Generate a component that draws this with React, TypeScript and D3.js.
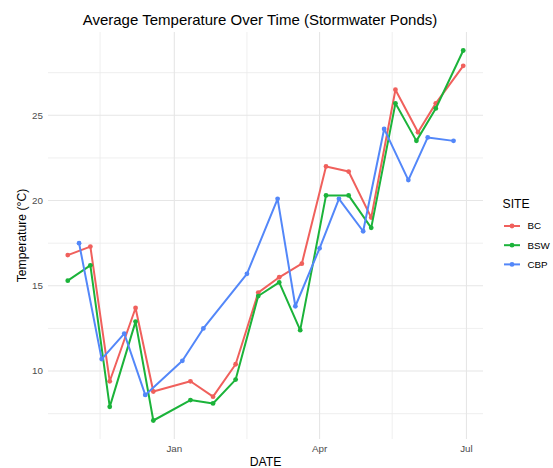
import React from "react";
import * as d3 from "d3";

const sites = ["BC", "BSW", "CBP"];
const siteColors = ["#F0605C", "#1BB33A", "#5387F9"];

const bcDates = ["2022-10-27", "2022-11-10", "2022-11-22", "2022-12-08", "2022-12-19", "2023-01-11", "2023-01-25", "2023-02-08", "2023-02-22", "2023-03-07", "2023-03-21", "2023-04-05", "2023-04-19", "2023-05-03", "2023-05-18", "2023-06-01", "2023-06-12", "2023-06-29"];
const bcValues = [16.8, 17.3, 9.4, 13.7, 8.8, 9.4, 8.5, 10.4, 14.6, 15.5, 16.3, 22.0, 21.7, 19.0, 26.5, 24.0, 25.7, 27.9];

const bswDates = ["2022-10-27", "2022-11-10", "2022-11-22", "2022-12-08", "2022-12-19", "2023-01-11", "2023-01-25", "2023-02-08", "2023-02-22", "2023-03-07", "2023-03-20", "2023-04-05", "2023-04-19", "2023-05-03", "2023-05-18", "2023-05-31", "2023-06-12", "2023-06-29"];
const bswValues = [15.3, 16.2, 7.9, 12.9, 7.1, 8.3, 8.1, 9.5, 14.4, 15.2, 12.4, 20.3, 20.3, 18.4, 25.7, 23.5, 25.4, 28.8];

const cbpDates = ["2022-11-03", "2022-11-17", "2022-12-01", "2022-12-14", "2023-01-06", "2023-01-19", "2023-02-15", "2023-03-06", "2023-03-17", "2023-04-01", "2023-04-13", "2023-04-28", "2023-05-11", "2023-05-26", "2023-06-07", "2023-06-23"];
const cbpValues = [17.5, 10.7, 12.2, 8.6, 10.6, 12.5, 15.7, 20.1, 13.8, 17.2, 20.1, 18.2, 24.2, 21.2, 23.7, 23.5];

const yTicks = [10, 15, 20, 25];
const yMinor = [7.5, 12.5, 17.5, 22.5, 27.5];
const xTickDates = ["2023-01-01", "2023-04-01", "2023-07-01"];
const xTickLabels = ["Jan", "Apr", "Jul"];
const xMinorDates = ["2022-11-16", "2023-02-15", "2023-05-16"];

const title = "Average Temperature Over Time (Stormwater Ponds)";
const xTitle = "DATE";
const yTitle = "Temperature (°C)";
const legendTitle = "SITE";

const parse = d3.utcParse("%Y-%m-%d");

export default function App() {
  const W = 553, H = 468;
  const left = 48, right = 483, top = 32, bottom = 439;

  const series = [
    { name: sites[0], color: siteColors[0], pts: bcDates.map((d, i) => ({ x: parse(d)!, y: bcValues[i] })) },
    { name: sites[1], color: siteColors[1], pts: bswDates.map((d, i) => ({ x: parse(d)!, y: bswValues[i] })) },
    { name: sites[2], color: siteColors[2], pts: cbpDates.map((d, i) => ({ x: parse(d)!, y: cbpValues[i] })) },
  ];
  const all = series.flatMap((s) => s.pts);
  const [x0, x1] = d3.extent(all, (p) => +p.x) as [number, number];
  const [y0, y1] = d3.extent(all, (p) => p.y) as [number, number];
  const xPad = (x1 - x0) * 0.05;
  const yPad = (y1 - y0) * 0.05;
  const x = d3.scaleUtc().domain([new Date(x0 - xPad), new Date(x1 + xPad)]).range([left, right]);
  const y = d3.scaleLinear().domain([y0 - yPad, y1 + yPad]).range([bottom, top]);
  const line = d3.line<{ x: Date; y: number }>().x((p) => x(p.x)).y((p) => y(p.y));

  const font = "'Liberation Sans', Arial, sans-serif";

  return (
    <svg width={W} height={H} style={{ position: "absolute", left: 0, top: 0, background: "#fff" }} fontFamily={font}>
      {yMinor.map((v) => (
        <line key={"ym" + v} x1={left} x2={right} y1={y(v)} y2={y(v)} stroke="#EBEBEB" strokeWidth={0.8} />
      ))}
      {xMinorDates.map((d) => (
        <line key={"xm" + d} x1={x(parse(d)!)} x2={x(parse(d)!)} y1={top} y2={bottom} stroke="#EBEBEB" strokeWidth={0.8} />
      ))}
      {yTicks.map((v) => (
        <line key={"y" + v} x1={left} x2={right} y1={y(v)} y2={y(v)} stroke="#E6E6E6" strokeWidth={1.1} />
      ))}
      {xTickDates.map((d) => (
        <line key={"x" + d} x1={x(parse(d)!)} x2={x(parse(d)!)} y1={top} y2={bottom} stroke="#E6E6E6" strokeWidth={1.1} />
      ))}
      {series.map((s) => (
        <g key={s.name}>
          <path d={line(s.pts)!} fill="none" stroke={s.color} strokeWidth={2} strokeLinejoin="round" />
          {s.pts.map((p, i) => (
            <circle key={i} cx={x(p.x)} cy={y(p.y)} r={2.4} fill={s.color} />
          ))}
        </g>
      ))}
      {yTicks.map((v) => (
        <text key={"yl" + v} x={43} y={y(v)} dy="0.35em" textAnchor="end" fontSize={9.8} fill="#4D4D4D">{v}</text>
      ))}
      {xTickDates.map((d, i) => (
        <text key={"xl" + d} x={x(parse(d)!)} y={452} textAnchor="middle" fontSize={9.8} fill="#4D4D4D">{xTickLabels[i]}</text>
      ))}
      <text x={265.5} y={466} textAnchor="middle" fontSize={12.2} fill="#000">{xTitle}</text>
      <text transform={`translate(26,${(top + bottom) / 2}) rotate(-90)`} textAnchor="middle" fontSize={12.2} fill="#000">{yTitle}</text>
      <text x={260} y={25} textAnchor="middle" fontSize={15} fill="#000">{title}</text>
      <text x={502.5} y={207.5} fontSize={12.2} fill="#000">{legendTitle}</text>
      {series.map((s, i) => {
        const cy = 226 + i * 19.2;
        return (
          <g key={"lg" + s.name}>
            <line x1={504} x2={520} y1={cy} y2={cy} stroke={s.color} strokeWidth={2} />
            <circle cx={512} cy={cy} r={2.4} fill={s.color} />
            <text x={527.5} y={cy} dy="0.35em" fontSize={9.8} fill="#000">{s.name}</text>
          </g>
        );
      })}
    </svg>
  );
}
